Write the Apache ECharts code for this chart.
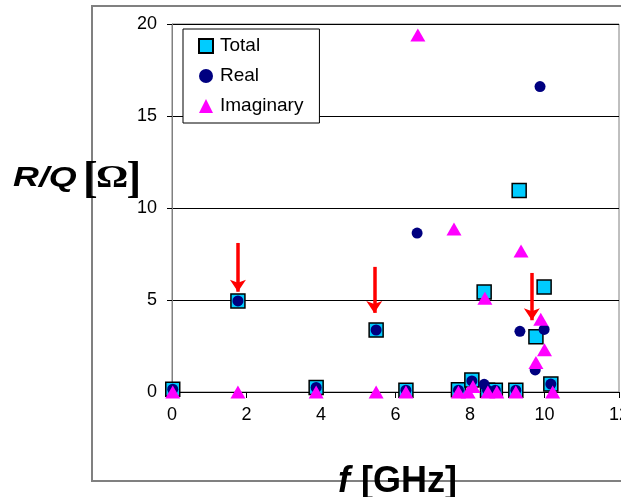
<!DOCTYPE html>
<html><head><meta charset="utf-8">
<script src="https://cdn.jsdelivr.net/npm/echarts@6/dist/echarts.min.js"></script>
<style>html,body{margin:0;padding:0;background:#fff}#c{width:621px;height:497px}</style>
</head><body><div id="c"></div>
<script>
// Data
const totalX = [0.02, 1.77, 3.87, 5.48, 6.28, 7.69, 8.05, 8.38, 8.47, 8.68, 9.23, 9.32, 9.77, 9.99, 10.17];
const totalY = [0.15, 4.95, 0.25, 3.37, 0.1, 0.12, 0.65, 5.43, 0.1, 0.1, 0.1, 10.95, 3.0, 5.7, 0.43];
const realX = [0.02, 1.77, 3.87, 5.48, 6.28, 6.58, 7.69, 8.05, 8.38, 8.47, 8.68, 9.23, 9.34, 9.75, 9.88, 9.99, 10.17];
const realY = [0.15, 4.95, 0.25, 3.37, 0.1, 8.64, 0.1, 0.6, 0.42, 0.1, 0.1, 0.1, 3.3, 1.2, 16.6, 3.4, 0.43];
const imagX = [0.02, 1.77, 3.87, 5.48, 6.28, 6.6, 7.57, 7.69, 7.95, 8.08, 8.4, 8.48, 8.72, 9.23, 9.37, 9.77, 9.9, 10.0, 10.22];
const imagY = [0, 0, 0, 0, 0, 19.4, 8.86, 0, 0, 0.3, 5.1, 0, 0, 0, 7.66, 1.6, 3.95, 2.3, 0];
// Red arrows (x, start y, tip y)
const arrowX = [1.77, 5.43, 9.66];
const arrowFrom = [8.1, 6.8, 6.47];
const arrowTo = [5.45, 4.3, 3.9];
const xTicks = [0, 2, 4, 6, 8, 10, 12];
const yTicks = [0, 5, 10, 15, 20];

const zip = (xs, ys) => xs.map((x, i) => [x, ys[i]]);
const FONT = 'Liberation Sans, Arial, sans-serif';
const SERIF = 'Liberation Serif, Times New Roman, serif';

const txt = (x, y, text, size, family, italic, scaleX) => ({
  type: 'text', z: 100, x: x, y: y, scaleX: scaleX || 1,
  style: {text: text, fontSize: size, fontWeight: 'bold', fontStyle: italic ? 'italic' : 'normal',
          fontFamily: family, fill: '#000', align: 'left', verticalAlign: 'middle'}
});

const chart = echarts.init(document.getElementById('c'), null, {renderer: 'canvas'});
chart.setOption({
  animation: false,
  backgroundColor: '#fff',
  textStyle: {fontFamily: FONT},
  grid: {left: 172, top: 24, width: 447, height: 368, show: true, borderColor: '#808080', borderWidth: 1,
         backgroundColor: 'transparent', containLabel: false, outerBoundsMode: 'none'},
  xAxis: {
    type: 'value', min: xTicks[0], max: xTicks[xTicks.length - 1], interval: 2,
    axisLine: {show: true, lineStyle: {color: '#000', width: 1}},
    axisTick: {show: true, length: 6, inside: false, lineStyle: {color: '#000'}},
    axisLabel: {color: '#000', fontSize: 18, fontFamily: FONT, margin: 14},
    splitLine: {show: false}
  },
  yAxis: {
    type: 'value', min: yTicks[0], max: yTicks[yTicks.length - 1], interval: 5,
    axisLine: {show: true, lineStyle: {color: '#808080', width: 1}},
    axisTick: {show: true, length: 5, lineStyle: {color: '#000'}},
    axisLabel: {color: '#000', fontSize: 18, fontFamily: FONT, margin: 15},
    splitLine: {show: true, lineStyle: {color: '#000', width: 1}}
  },
  legend: {
    left: 183, top: 29, orient: 'vertical',
    backgroundColor: '#fff', borderColor: '#000', borderWidth: 1, borderRadius: 0,
    padding: [7, 16, 7, 15], itemGap: 10, itemWidth: 14, itemHeight: 14,
    textStyle: {fontSize: 19, color: '#000', fontFamily: FONT, lineHeight: 20, padding: [0, 0, 0, 2]},
    data: [
      {name: 'Total'},
      {name: 'Real', icon: 'circle'},
      {name: 'Imaginary'}
    ]
  },
  graphic: [
    {type: 'rect', z: -10, shape: {x: 92, y: 6, width: 560, height: 475}, style: {fill: 'none', stroke: '#808080', lineWidth: 2}},
    txt(13, 178, 'R/Q', 28, FONT, true, 1.28),
    txt(83, 181, '[', 44, SERIF, false, 1),
    txt(96, 179, 'Ω', 31, SERIF, false, 1.3),
    txt(126.5, 181, ']', 44, SERIF, false, 1),
    txt(338, 482, 'f', 36, FONT, true, 1),
    txt(361, 482, '[GHz]', 36, FONT, false, 1)
  ],
  series: [
    {name: 'Total', type: 'scatter', symbol: 'rect', symbolSize: 14, z: 2,
     itemStyle: {color: '#00CCFF', borderColor: '#000', borderWidth: 1.5, opacity: 1},
     data: zip(totalX, totalY)},
    {name: 'Real', type: 'scatter', symbol: 'circle', symbolSize: 11, z: 3,
     itemStyle: {color: '#000080', opacity: 1},
     data: zip(realX, realY)},
    {name: 'Imaginary', type: 'scatter', symbol: 'triangle', symbolSize: [15, 13], z: 4,
     itemStyle: {color: '#FF00FF', opacity: 1},
     data: zip(imagX, imagY)},
    {name: 'arrows', type: 'scatter', data: [], z: 5,
     markLine: {
       silent: true, animation: false,
       symbol: ['none', 'arrow'], symbolSize: 12,
       lineStyle: {color: '#FF0000', width: 3.5, type: 'solid', opacity: 1},
       label: {show: false},
       emphasis: {disabled: true},
       data: arrowX.map((x, i) => [{coord: [x, arrowFrom[i]]}, {coord: [x, arrowTo[i]]}])
     }}
  ]
});
</script></body></html>
